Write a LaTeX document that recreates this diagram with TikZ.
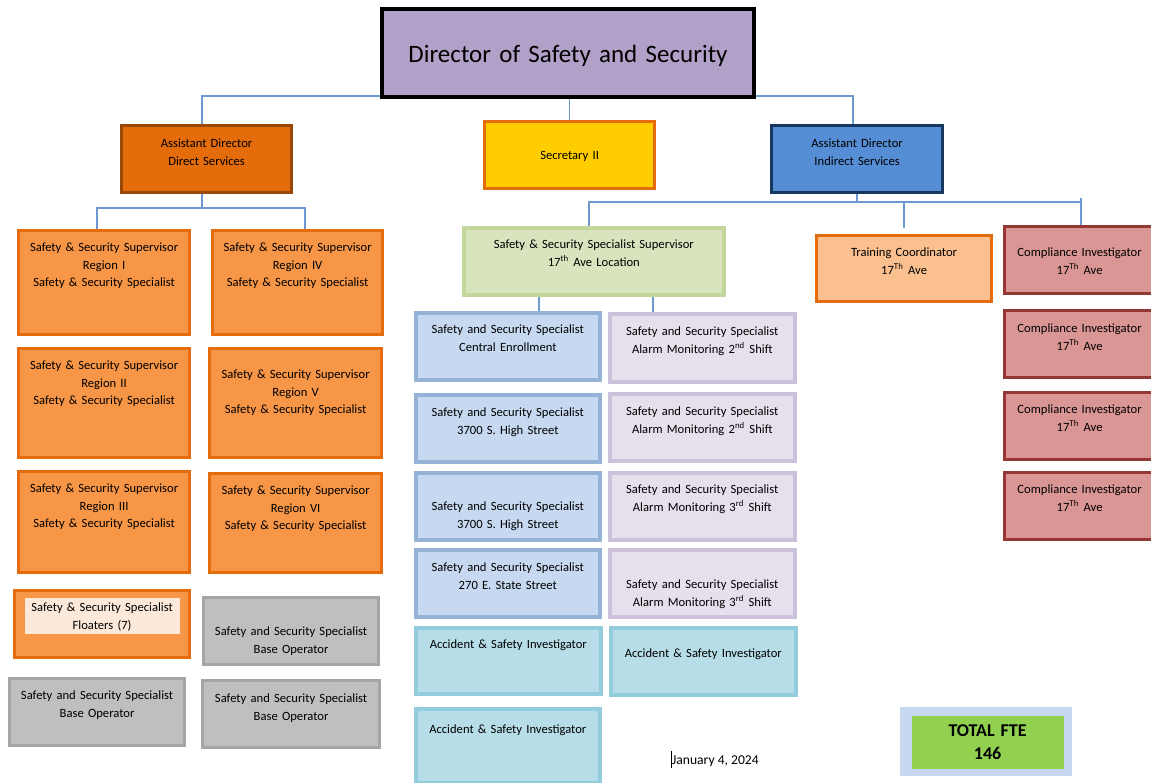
\documentclass[tikz,border=0pt]{standalone}
\usepackage{fontspec}
\setmainfont{Carlito}
\usetikzlibrary{backgrounds}

\definecolor{dirfill}{HTML}{B1A0C7}
\definecolor{adfill}{HTML}{E46C0A}
\definecolor{adedge}{HTML}{984807}
\definecolor{secfill}{HTML}{FFCC00}
\definecolor{orangeedge}{HTML}{E46C0A}
\definecolor{adifill}{HTML}{558ED5}
\definecolor{adiedge}{HTML}{17375E}
\definecolor{regfill}{HTML}{F79646}
\definecolor{floatfill}{HTML}{FDE9D9}
\definecolor{basefill}{HTML}{BFBFBF}
\definecolor{baseedge}{HTML}{A5A5A5}
\definecolor{supfill}{HTML}{D7E4BD}
\definecolor{supedge}{HTML}{C3D69B}
\definecolor{locfill}{HTML}{C6D9F1}
\definecolor{locedge}{HTML}{95B3D7}
\definecolor{alarmfill}{HTML}{E6E0EC}
\definecolor{alarmedge}{HTML}{CCC1DA}
\definecolor{accfill}{HTML}{B7DEE8}
\definecolor{accedge}{HTML}{93CDDD}
\definecolor{trainfill}{HTML}{FAC090}
\definecolor{compfill}{HTML}{D99694}
\definecolor{compedge}{HTML}{953735}
\definecolor{ftefill}{HTML}{92D050}
\definecolor{linkblue}{HTML}{6E98D0}

\begin{document}
\begin{tikzpicture}
  [x=0.5pt, y=-0.5pt,
   box/.style={anchor=north west, inner sep=0pt, align=center, line width=1.6pt,
     text height=10.5pt, text depth=23pt, font=\fontsize{6.3}{8.75}\selectfont},
   head/.style={box, fill=dirfill, draw=black, line width=2pt,
     font=\fontsize{12.5}{15}\selectfont},
   assist/.style={box, text width=85pt, text height=11pt, text depth=22.5pt},
   region/.style={box, fill=regfill, draw=orangeedge},
   baseop/.style={box, fill=basefill, draw=baseedge, text width=87.5pt},
   spec/.style={box, fill=locfill, draw=locedge, line width=1.8pt, text width=92pt},
   alarm/.style={box, fill=alarmfill, draw=alarmedge, line width=1.8pt, text width=92.5pt},
   invest/.style={box, fill=accfill, draw=accedge, line width=1.8pt, text width=92.5pt},
   comp/.style={box, fill=compfill, draw=compedge, text width=75pt},
   link/.style={draw=linkblue, line width=0.7pt}]

  \useasboundingbox (0,0) rectangle (1151,782);
  \clip (0,0) rectangle (1151,782);

  % top of the chart
  \node[head, text width=186pt, text height=26.5pt, text depth=17.5pt] (dir) at (380,7)
    {Director of Safety and Security};
  \node[assist, fill=adfill, draw=adedge] (add) at (120,124)
    {Assistant Director\\Direct Services};
  \node[assist, fill=secfill, draw=orangeedge, text height=19pt, text depth=14.5pt] (sec) at (483,120)
    {Secretary II};
  \node[assist, fill=adifill, draw=adiedge, text width=85.5pt] (adi) at (770,124)
    {Assistant Director\\Indirect Services};

  % direct services: regions
  \node[region, text width=85.5pt, text depth=41.5pt] (reg1) at (17,229)
    {Safety \& Security Supervisor\\Region I\\Safety \& Security Specialist};
  \node[region, text width=85pt, text depth=41.5pt] (reg4) at (211,229)
    {Safety \& Security Supervisor\\Region IV\\Safety \& Security Specialist};
  \node[region, text width=85.5pt, text depth=44pt] (reg2) at (17,347)
    {Safety \& Security Supervisor\\Region II\\Safety \& Security Specialist};
  \node[region, text width=86pt, text height=15pt, text depth=39.5pt] (reg5) at (208,347)
    {Safety \& Security Supervisor\\Region V\\Safety \& Security Specialist};
  \node[region, text width=85.5pt, text depth=40pt] (reg3) at (17,470)
    {Safety \& Security Supervisor\\Region III\\Safety \& Security Specialist};
  \node[region, text width=86pt, text depth=39pt] (reg6) at (208,472)
    {Safety \& Security Supervisor\\Region VI\\Safety \& Security Specialist};

  % floaters and base operators
  \node[region, text width=87.5pt] (float) at (13,589) {};
  \node[box, fill=floatfill, text width=77.5pt, text height=7pt, text depth=11pt] (floatlbl) at (23,596)
    {Safety \& Security Specialist\\Floaters (7)};
  \node[baseop, text height=19pt, text depth=14.5pt] (base1) at (202,596)
    {Safety and Security Specialist\\Base Operator};
  \node[baseop] (base2) at (8,677)
    {Safety and Security Specialist\\Base Operator};
  \node[baseop, text width=88.5pt, text height=11pt, text depth=22.5pt] (base3) at (201,679)
    {Safety and Security Specialist\\Base Operator};

  % indirect services
  \node[box, fill=supfill, draw=supedge, line width=1.8pt, text width=130pt] (sup) at (462,226)
    {Safety \& Security Specialist Supervisor\\17\textsuperscript{th} Ave Location};
  \foreach \y/\th/\td/\where [count=\i] in {311/10.5pt/23pt/Central Enrollment,
      393/11pt/22.5pt/3700 S. High Street, 471/19pt/14.5pt/3700 S. High Street,
      548/11pt/22.5pt/270 E. State Street}
    \node[spec, text height=\th, text depth=\td] (loc\i) at (414,\y)
      {Safety and Security Specialist\\\where};
  \foreach \y/\th/\td/\n/\sfx [count=\i] in {312/11pt/23pt/2/nd, 392/11pt/22.5pt/2/nd,
      471/10.5pt/23pt/3/rd, 548/19.5pt/14pt/3/rd}
    \node[alarm, text height=\th, text depth=\td] (alarm\i) at (608,\y)
      {Safety and Security Specialist\\Alarm Monitoring \n\textsuperscript{\sfx} Shift};
  \node[invest, text depth=22.5pt] (acc1) at (414,626) {Accident \& Safety Investigator};
  \node[invest, text height=15pt, text depth=18.5pt] (acc2) at (609,626) {Accident \& Safety Investigator};
  \node[invest, text width=92pt, text height=12.5pt, text depth=24.5pt] (acc3) at (414,707)
    {Accident \& Safety Investigator};

  \node[box, fill=trainfill, draw=orangeedge, text width=87.5pt, text depth=22.5pt] (train) at (815,234)
    {Training Coordinator\\17\textsuperscript{Th} Ave};
  \foreach \y/\th/\td [count=\i] in {225/15pt/18.5pt, 309/11pt/22.5pt, 391/10.5pt/23pt, 471/10.5pt/23pt}
    \node[comp, text height=\th, text depth=\td] (comp\i) at (1003,\y)
      {Compliance Investigator\\17\textsuperscript{Th} Ave};

  % head count and date
  \node[anchor=north west, fill=locfill, minimum width=86pt, minimum height=34.5pt] (fte) at (900,707) {};
  \node[box, fill=ftefill, text width=76pt, text height=10.5pt, text depth=16pt,
    font=\fontsize{9}{11.5}\selectfont\bfseries] (ftelbl) at (910,714) {TOTAL FTE\\146};
  \node[font=\fontsize{6.8}{8}\selectfont] (date) at (715,759)
    {\vrule height 7pt depth 1.5pt width 0.4pt January 4, 2024};

  % connectors
  \coordinate (tbusL) at (202,96);
  \coordinate (tbusR) at (853,96);
  \coordinate (dbusL) at (97,208);
  \coordinate (dbusR) at (305,208);
  \coordinate (ibusL) at (589,202);
  \coordinate (ibusR) at (1081,202);
  \coordinate (sdL) at (539,0);
  \coordinate (sdR) at (653,0);
  \begin{scope}[on background layer]
    \draw[link] (add.north -| tbusL) |- (tbusR) -- (tbusR |- adi.north);
    \draw[link] (sec.north |- tbusL) -- (sec.north);
    \draw[link] (add.south -| tbusL) -- (dbusL -| tbusL);
    \draw[link] (reg1.north -| dbusL) |- (dbusR) -- (dbusR |- reg4.north);
    \draw[link] (adi.south) -- (adi.south |- ibusL);
    \draw[link] (sup.north -| ibusL) |- (ibusR);
    \draw[link] ([yshift=2pt]ibusR) -- (ibusR |- comp1.north);
    \draw[link] (train.north |- ibusL) -- ([yshift=3pt]train.north);
    \draw[link] (sup.south -| sdL) -- (loc1.north -| sdL);
    \draw[link] (sup.south -| sdR) -- (alarm1.north -| sdR);
  \end{scope}
\end{tikzpicture}
\end{document}
